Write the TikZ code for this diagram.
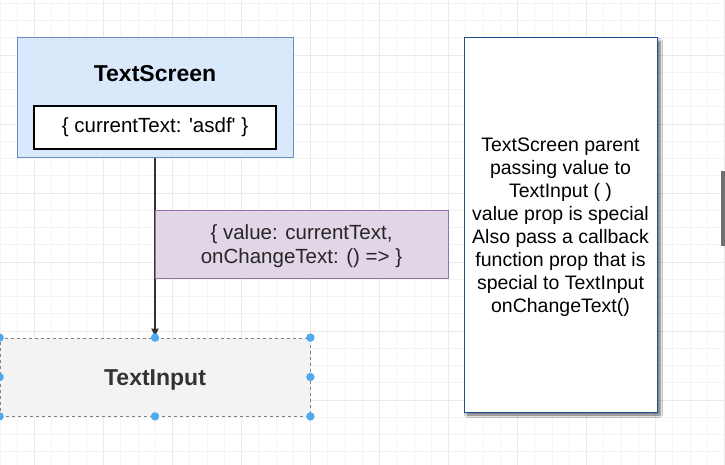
\documentclass[tikz,border=0pt]{standalone}
\usepackage{fontspec}
\setmainfont{Liberation Sans}[Ligatures=TeXOff]
\usetikzlibrary{shadows.blur,arrows.meta}
\definecolor{gridminor}{HTML}{F4F4F4}
\definecolor{gridmajor}{HTML}{EAEAEA}
\definecolor{blueFill}{HTML}{DAE8FC}
\definecolor{blueLine}{HTML}{6C8EBF}
\definecolor{purpleFill}{HTML}{E1D5E7}
\definecolor{purpleLine}{HTML}{9673A6}
\definecolor{greyFill}{HTML}{F3F3F3}
\definecolor{handleBlue}{HTML}{4FA9EF}
\definecolor{noteLine}{HTML}{1F4E8C}
\definecolor{darkText}{HTML}{333333}
\definecolor{barGrey}{HTML}{707070}
\tikzset{
  titlefont/.style={font=\fontsize{23}{27}\selectfont\bfseries},
  bodyfont/.style={font=\fontsize{20.5}{24}\selectfont},
  notefont/.style={font=\fontsize{19.5}{23}\selectfont},
  handledot/.style={fill=handleBlue},
}
\begin{document}
\begin{tikzpicture}[x=1pt,y=-1pt]
\useasboundingbox (0,0) rectangle (725,465);
\clip (0,0) rectangle (725,465);
\fill[white] (0,0) rectangle (725,465);
% grid
\foreach \i in {0,...,42} { \draw[gridminor, line width=0.8pt] ({17.25*\i},0) -- ({17.25*\i},465); }
\foreach \j in {0,...,26} { \draw[gridminor, line width=0.8pt] (0,{3.25+17.25*\j}) -- (725,{3.25+17.25*\j}); }
\foreach \k in {0,...,10} { \draw[gridmajor, line width=0.9pt] ({34.5+69*\k},0) -- ({34.5+69*\k},465); }
\foreach \k in {0,...,5} { \draw[gridmajor, line width=0.9pt] (0,{55+69*\k}) -- (725,{55+69*\k}); }

% scroll bar
\fill[barGrey] (721,171) rectangle (725,246);

% TextScreen
\node[draw=blueLine, fill=blueFill, line width=1pt, minimum width=276pt, minimum height=120pt, inner sep=0pt] (screen) at (155,98) {};
\node[titlefont, text=black] (screentitle) at (155,73.5) {TextScreen};
\node[draw=black, fill=white, line width=1.2pt, minimum width=242pt, minimum height=43pt, inner sep=0pt, bodyfont, text=black] (state) at (155,127.5) {\{ currentText: 'asdf' \}};

% TextInput
\node[draw=gray, dashed, fill=greyFill, line width=0.8pt, minimum width=310pt, minimum height=78pt, inner sep=0pt] (input) at (155,377) {};
\node[titlefont, text=darkText] (inputtitle) at (155,380) {TextInput};

% connector
\draw[line width=1.6pt, darkText, -{Latex[length=9pt,width=8pt]}] (screen.south) -- (input.north);

% props label
\node[draw=purpleLine, fill=purpleFill, line width=1pt, minimum width=293pt, minimum height=68pt, inner sep=0pt] (props) at (301.5,244) {};
\node[align=center, bodyfont, text=black!85] (propstext) at (301.5,246) {\{ value: currentText,\\onChangeText: () => \}};

% selection handles
\foreach \a in {north west,north,north east,west,east,south west,south,south east} {
  \fill[handledot] (input.\a) circle (4.2pt);
}

% note
\node[draw=noteLine, fill=white, line width=1pt, minimum width=193pt, minimum height=374pt, inner sep=0pt,
  blur shadow={shadow xshift=3pt, shadow yshift=-3pt, shadow blur steps=6, shadow blur radius=2.5pt, shadow opacity=60}] (note) at (560.5,225) {};
\node[align=center, notefont, text=black] (notetext) at (560.5,227)
  {TextScreen parent\\passing value to\\TextInput ( )\\value prop is special\\Also pass a callback\\function prop that is\\special to TextInput\\onChangeText()};
\end{tikzpicture}
\end{document}
